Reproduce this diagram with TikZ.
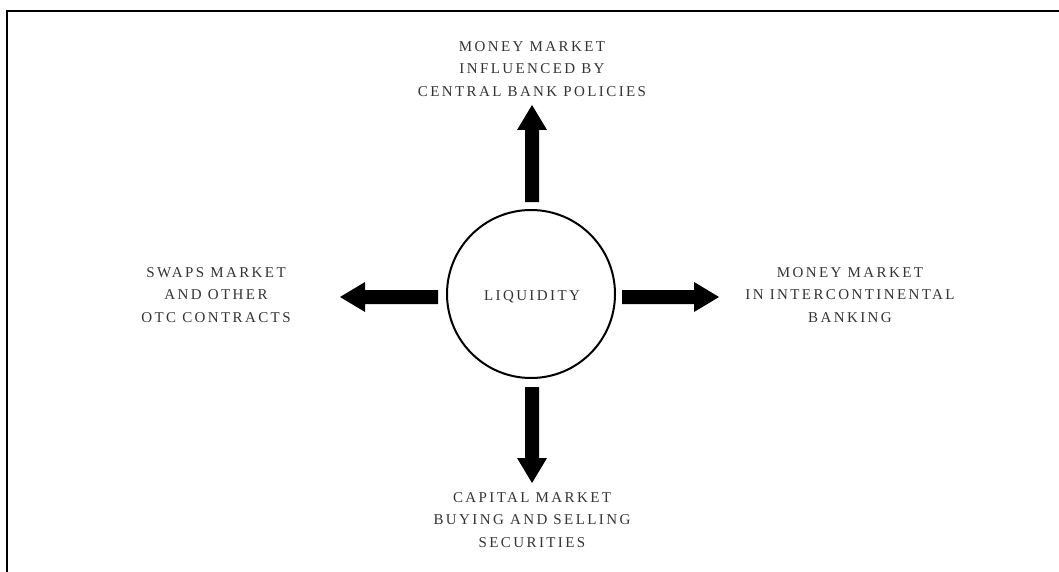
\documentclass[tikz,border=0pt]{standalone}
\usepackage{fontspec}
\setmainfont[LetterSpace=16]{Liberation Serif}
\usetikzlibrary{calc}
\definecolor{txt}{HTML}{333333}
\tikzset{
  lbl/.style={align=center, text=txt, font=\fontsize{15}{22.5}\selectfont, inner sep=0pt},
  frameline/.style={line width=2pt, black},
  hub/.style={circle, draw, line width=2pt, minimum size=168pt, inner sep=0pt},
  blk/.style={fill=black}
}
\newcommand\blockarrow[2]{%
  \path (#1) coordinate (ba) (#2) coordinate (bt) ($(#2)!25pt!(#1)$) coordinate (bh);
  \fill[blk] ($(ba)!7pt!90:(bt)$) -- ($(bh)!7pt!-90:(ba)$) -- ($(bh)!15pt!-90:(ba)$) -- (bt)
    -- ($(bh)!15pt!90:(ba)$) -- ($(bh)!7pt!90:(ba)$) -- ($(ba)!7pt!-90:(bt)$) -- cycle;
}
\begin{document}
\begin{tikzpicture}[x=1pt,y=-1pt]
\useasboundingbox (0,0) rectangle (1059,572);
% frame
\coordinate (fbl) at (7,572);
\coordinate (ftl) at (7,11);
\coordinate (ftr) at (1059,11);
\draw[frameline] (fbl) -- (ftl) -- (ftr);
% hub
\node[hub] (liq) at (531,294) {};
\node[lbl] (liqt) at (532,297) {LIQUIDITY};
% labels
\node[lbl] (top) at (532,69) {MONEY MARKET\\INFLUENCED BY\\CENTRAL BANK POLICIES};
\node[lbl] (left) at (216,295) {SWAPS MARKET\\AND OTHER\\OTC CONTRACTS};
\node[lbl] (right) at (850,295) {MONEY MARKET\\IN INTERCONTINENTAL\\BANKING};
\node[lbl] (bottom) at (532,520) {CAPITAL MARKET\\BUYING AND SELLING\\SECURITIES};
% arrow ends
\coordinate (us) at (532,202); \coordinate (ut) at (532,105);
\coordinate (ls) at (438,297); \coordinate (lt) at (340,297);
\coordinate (rs) at (622,297); \coordinate (rt) at (719,297);
\coordinate (ds) at (532,387); \coordinate (dt) at (532,483);
\blockarrow{us}{ut}
\blockarrow{ls}{lt}
\blockarrow{rs}{rt}
\blockarrow{ds}{dt}
\end{tikzpicture}
\end{document}
